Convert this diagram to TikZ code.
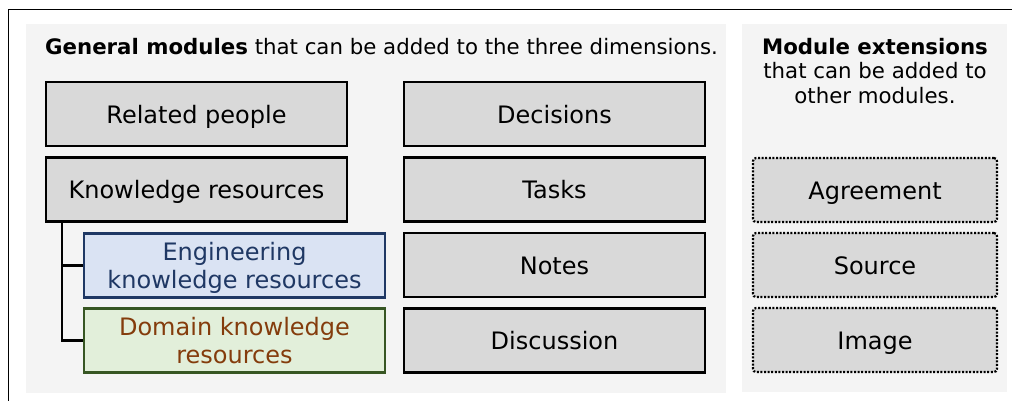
\documentclass[tikz,border=0pt]{standalone}
\usepackage{fontspec}
\setmainfont{DejaVu Sans}
\begin{document}
\begin{tikzpicture}[x=1pt,y=-1pt,
  panel/.style={fill=panelgray,draw=none},
  modbox/.style={draw=black,line width=2.2pt,fill=boxgray,minimum width=301pt,minimum height=64pt,inner sep=0pt,font=\fontsize{24}{28}\selectfont,align=center},
  onel/.style={text height=18pt,text depth=0pt},
  engbox/.style={modbox,draw=engborder,fill=engfill,text=engtext},
  dombox/.style={modbox,draw=domborder,fill=domfill,text=domtext},
  extbox/.style={modbox,onel,minimum width=244pt,rounded corners=3pt,dash pattern=on 2pt off 1.6pt},
  hdr/.style={font=\fontsize{21.3}{24.5}\selectfont,inner sep=0pt},
  tree/.style={draw=black,line width=2.2pt}
]
\definecolor{panelgray}{HTML}{F4F4F4}
\definecolor{boxgray}{HTML}{D9D9D9}
\definecolor{engborder}{HTML}{1F3864}
\definecolor{engfill}{HTML}{DAE3F3}
\definecolor{engtext}{HTML}{1F3864}
\definecolor{domborder}{HTML}{375623}
\definecolor{domfill}{HTML}{E2EFDA}
\definecolor{domtext}{HTML}{843C0C}
\useasboundingbox (0,0) rectangle (1012,400);
\clip (0,0) rectangle (1012,400);
\fill[white] (0,0) rectangle (1012,400);
% outer frame
\draw[line width=1.6pt] (8.5,9.5) rectangle (1040,430);
% panels
\fill[panelgray] (26,24) rectangle (726,393);
\fill[panelgray] (742,24) rectangle (1007,392);
% headers
\node[hdr,anchor=base west] (h1) at (45,54) {\textbf{General modules} that can be added to the three dimensions.};
\node[hdr,anchor=north,align=center] (h2) at (875,38) {\textbf{Module extensions}\\that can be added to\\other modules.};
% left column
\node[modbox,onel] (rp) at (196.5,114) {Related people};
\node[modbox,onel] (kr) at (196.5,189.5) {Knowledge resources};
\node[engbox] (eng) at (234.5,265.5) {\rule{0pt}{22.7pt}Engineering\\knowledge resources};
\node[dombox] (dom) at (234.5,340.5) {Domain knowledge\\resources};
% middle column
\node[modbox,onel] (dec) at (554.5,114) {Decisions};
\node[modbox,onel] (tsk) at (554.5,189.5) {Tasks};
\node[modbox,onel] (nts) at (554.5,265) {Notes};
\node[modbox,onel] (dis) at (554.5,340.5) {Discussion};
% extensions
\node[extbox] (agr) at (875,190) {Agreement};
\node[extbox] (src) at (875,265) {Source};
\node[extbox] (img) at (875,340) {Image};
% tree connectors
\coordinate (tr) at ([xshift=17pt]kr.south west);
\draw[tree] (tr) |- (eng.west);
\draw[tree] (tr) |- (dom.west);
\end{tikzpicture}
\end{document}
